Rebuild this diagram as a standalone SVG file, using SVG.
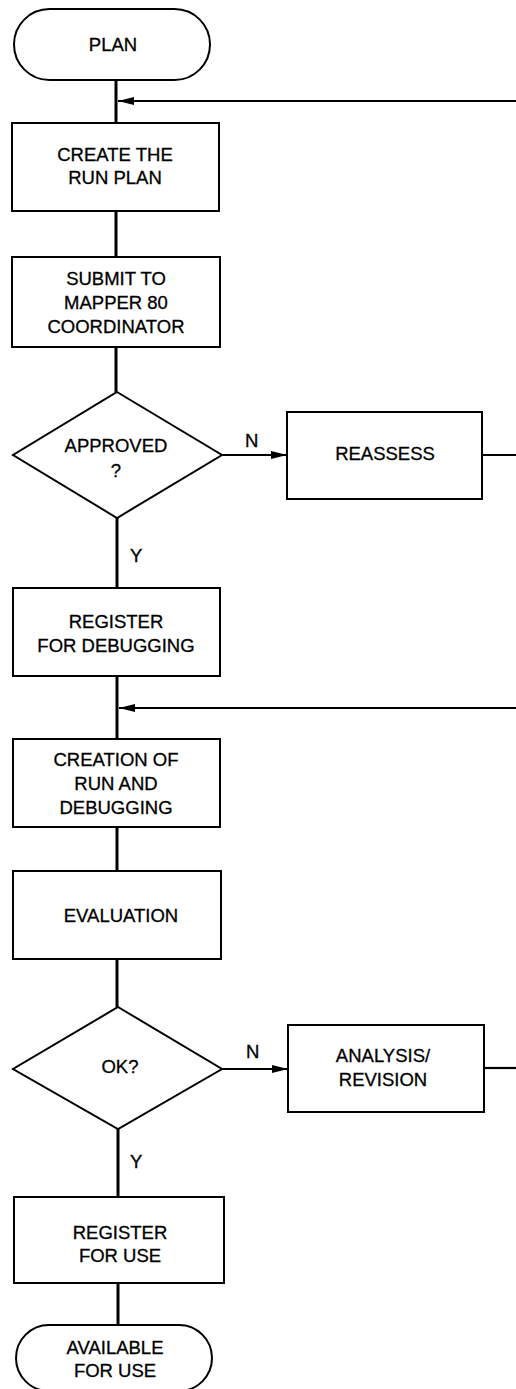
<svg xmlns="http://www.w3.org/2000/svg" width="516" height="1389" viewBox="0 0 516 1389">
<style>
.n{fill:#fff;stroke:#000;stroke-width:2}
.t{font-family:"Liberation Sans",Arial,Helvetica,sans-serif;font-size:18.5px;fill:#000;stroke:#000;stroke-width:0.3;text-anchor:middle}
.l{font-family:"Liberation Sans",Arial,Helvetica,sans-serif;font-size:18.5px;fill:#000;stroke:#000;stroke-width:0.3}
.c{stroke:#000;stroke-width:3;fill:none}
.h{stroke:#000;stroke-width:2.2;fill:none}
</style>
<defs>
<marker id="ah" viewBox="0 0 16 8" refX="16" refY="4" markerWidth="16" markerHeight="8" markerUnits="userSpaceOnUse" orient="auto">
<path d="M0,0 L16,4 L0,8 Z" fill="#000"/>
</marker>
</defs>
<rect width="516" height="1389" fill="#fff"/>
<g id="connectors">
<line class="c" x1="116" y1="80" x2="116" y2="123"/>
<line class="h" x1="516" y1="101" x2="118" y2="101" marker-end="url(#ah)"/>
<line class="c" x1="116" y1="211" x2="116" y2="257"/>
<line class="c" x1="116" y1="347" x2="116" y2="392"/>
<line class="h" x1="222" y1="455" x2="287" y2="455" marker-end="url(#ah)"/>
<line class="h" x1="482" y1="455" x2="516" y2="455"/>
<line class="c" x1="117" y1="518" x2="117" y2="588"/>
<line class="c" x1="117" y1="676" x2="117" y2="739"/>
<line class="h" x1="516" y1="708" x2="119" y2="708" marker-end="url(#ah)"/>
<line class="c" x1="117" y1="827" x2="117" y2="871"/>
<line class="c" x1="117" y1="959" x2="117" y2="1007"/>
<line class="h" x1="222" y1="1069" x2="288" y2="1069" marker-end="url(#ah)"/>
<line class="h" x1="484" y1="1068" x2="516" y2="1068"/>
<line class="c" x1="118" y1="1129" x2="118" y2="1197"/>
<line class="c" x1="118" y1="1283" x2="118" y2="1325"/>
<text class="l" x="245" y="447">N</text>
<text class="l" x="130" y="562">Y</text>
<text class="l" x="246" y="1058">N</text>
<text class="l" x="130" y="1168">Y</text>
</g>
<g id="plan">
<rect class="n" x="14" y="9" width="196" height="71" rx="35.5" ry="35.5"/>
<text class="t" x="113" y="51">PLAN</text>
</g>
<g id="create">
<rect class="n" x="12" y="123" width="207" height="88"/>
<text class="t" x="115" y="161">CREATE THE</text>
<text class="t" x="115" y="184">RUN PLAN</text>
</g>
<g id="submit">
<rect class="n" x="12" y="257" width="208" height="90"/>
<text class="t" x="116" y="285">SUBMIT TO</text>
<text class="t" x="116" y="309">MAPPER 80</text>
<text class="t" x="116" y="333">COORDINATOR</text>
</g>
<g id="approved">
<polygon class="n" points="117,392 222,455 117,518 13,455"/>
<text class="t" x="116" y="452">APPROVED</text>
<text class="t" x="116" y="477">?</text>
</g>
<g id="reassess">
<rect class="n" x="287" y="412" width="195" height="87"/>
<text class="t" x="385" y="460">REASSESS</text>
</g>
<g id="register-debug">
<rect class="n" x="13" y="588" width="207" height="88"/>
<text class="t" x="116" y="628">REGISTER</text>
<text class="t" x="116" y="652">FOR DEBUGGING</text>
</g>
<g id="creation">
<rect class="n" x="13" y="739" width="207" height="88"/>
<text class="t" x="116" y="766">CREATION OF</text>
<text class="t" x="116" y="790">RUN AND</text>
<text class="t" x="116" y="814">DEBUGGING</text>
</g>
<g id="evaluation">
<rect class="n" x="13" y="871" width="208" height="88"/>
<text class="t" x="121" y="922">EVALUATION</text>
</g>
<g id="ok">
<polygon class="n" points="118,1007 222,1069 118,1129 13,1069"/>
<text class="t" x="120" y="1073">OK?</text>
</g>
<g id="analysis">
<rect class="n" x="288" y="1025" width="196" height="87"/>
<text class="t" x="383" y="1062">ANALYSIS/</text>
<text class="t" x="383" y="1086">REVISION</text>
</g>
<g id="register-use">
<rect class="n" x="14" y="1197" width="210" height="86"/>
<text class="t" x="120" y="1239">REGISTER</text>
<text class="t" x="120" y="1262">FOR USE</text>
</g>
<g id="available">
<rect class="n" x="16" y="1325" width="196" height="66" rx="33" ry="33"/>
<text class="t" x="115" y="1354">AVAILABLE</text>
<text class="t" x="115" y="1377">FOR USE</text>
</g>
</svg>
